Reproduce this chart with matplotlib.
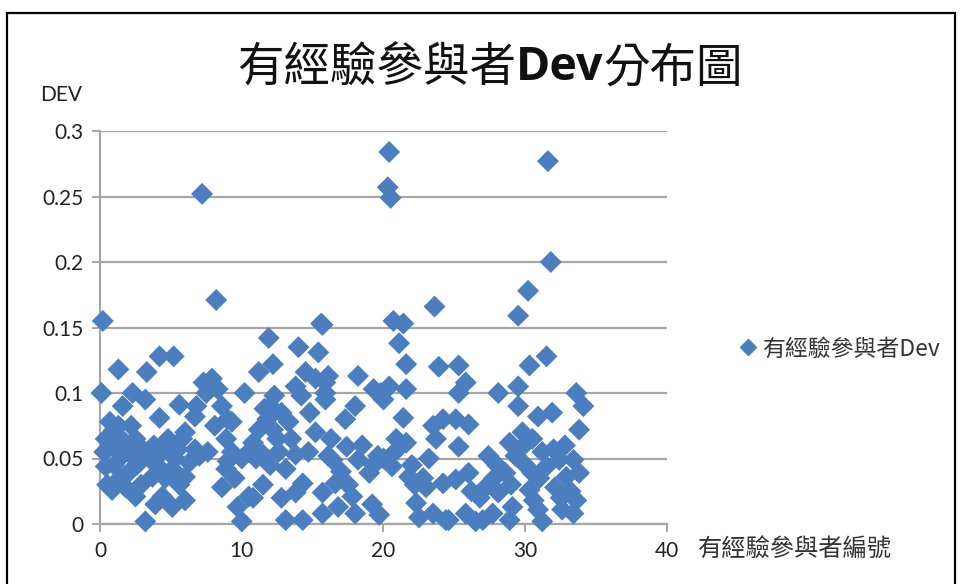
import matplotlib
matplotlib.use('Agg')
import matplotlib.pyplot as plt
from matplotlib.patches import Rectangle
from matplotlib.ticker import FuncFormatter
from matplotlib.lines import Line2D

plt.rcParams['font.family'] = ['Noto Sans CJK TC', 'DejaVu Sans']

# participant id vs Dev
x_vals = [
    0.2, 7.2, 8.2, 20.4, 20.3, 20.5, 23.6, 31.6, 31.8, 30.2, 29.5, 15.6, 20.7, 21.4,
    1.3, 3.3, 4.2, 5.2, 0.1, 2.3, 3.2, 1.6, 5.6, 4.2, 6.7, 7.3, 1.3, 0.4, 0.85, 2.5,
    4.8, 6.0, 0.4, 1.55, 3.0, 4.4, 5.5, 6.7, 2.0, 3.7, 5.1, 6.0, 0.85, 2.5, 4.4, 5.1,
    6.0, 3.2, 1.8, 0.6, 1.0, 1.2, 1.0, 0.5, 2.8, 3.5, 6.3, 7.0, 7.5, 6.8, 2.0,
    0.3, 0.7, 1.5, 2.2, 2.6, 3.8, 4.0, 4.6, 5.3, 5.8, 1.4, 2.9, 3.9, 5.6,
    15.7, 11.9, 14.0, 15.4, 12.2, 11.2, 14.5, 15.2, 15.9, 13.8, 7.9, 8.3, 10.2, 12.3,
    14.2, 15.9, 8.6, 11.6, 12.8, 9.3, 8.1, 11.2, 13.3, 15.2, 12.2, 8.9, 7.6, 9.3,
    10.5, 11.5, 12.6, 13.8, 14.7, 16.1, 8.9, 13.1, 8.6, 10.5, 14.3, 13.8, 15.7, 9.7,
    10.0, 13.1, 14.3, 15.7, 12.0, 12.5, 10.0, 11.0, 9.0, 11.8, 10.8,
    9.5, 10.8, 12.0, 13.5, 14.8, 11.5, 12.8, 9.0,
    21.1, 21.6, 23.9, 18.2, 16.1, 19.3, 20.4, 21.6, 20.0, 15.9, 18.0, 17.3, 21.4,
    23.5, 24.2, 23.7, 20.9, 21.6, 17.4, 16.4, 18.2, 19.6, 19.0, 20.6, 21.8, 23.0,
    24.2, 16.6, 17.8, 16.8, 18.0, 19.7, 22.3, 22.5, 23.5, 24.4, 17.0, 17.5, 19.3,
    20.0, 22.0, 22.8, 16.3, 19.8,
    18.5, 20.8, 22.2, 23.2, 19.2,
    30.3, 31.5, 25.3, 25.8, 25.3, 28.1, 29.5, 33.6, 34.1, 29.5, 30.9, 31.9, 25.1,
    26.0, 33.8, 29.8, 28.9, 25.3, 27.4, 29.3, 32.0, 32.4, 33.4, 25.1, 26.0, 27.2,
    28.6, 30.5, 31.5, 32.9, 33.8, 28.1, 30.3, 32.1, 33.6, 25.8, 27.7, 29.1, 31.2,
    33.4, 32.6, 30.9, 28.9, 24.6, 26.5, 27.0, 29.9, 30.5, 31.0, 32.5, 28.0,
    26.8, 27.8, 29.0, 30.0, 31.2, 32.8, 33.2, 30.6, 26.2,
]
dev_vals = [
    0.155, 0.252, 0.171, 0.284, 0.257, 0.249, 0.166, 0.277, 0.200, 0.178, 0.159, 0.153, 0.155, 0.153,
    0.118, 0.116, 0.128, 0.128, 0.100, 0.100, 0.095, 0.090, 0.091, 0.081, 0.082, 0.108, 0.075, 0.065, 0.067, 0.065,
    0.065, 0.070, 0.044, 0.052, 0.057, 0.055, 0.057, 0.057, 0.039, 0.036, 0.042, 0.036, 0.026, 0.021, 0.021, 0.013,
    0.018, 0.002, 0.028, 0.058, 0.072, 0.060, 0.045, 0.030, 0.048, 0.050, 0.047, 0.052, 0.100, 0.090, 0.055,
    0.055, 0.078, 0.065, 0.075, 0.045, 0.060, 0.045, 0.035, 0.050, 0.065, 0.035, 0.030, 0.015, 0.030,
    0.152, 0.142, 0.135, 0.131, 0.122, 0.116, 0.116, 0.111, 0.108, 0.105, 0.111, 0.103, 0.100, 0.098,
    0.098, 0.095, 0.090, 0.088, 0.085, 0.078, 0.075, 0.072, 0.078, 0.070, 0.072, 0.065, 0.055, 0.055,
    0.055, 0.053, 0.055, 0.053, 0.055, 0.052, 0.042, 0.042, 0.028, 0.021, 0.031, 0.024, 0.024, 0.013,
    0.002, 0.003, 0.003, 0.008, 0.090, 0.065, 0.050, 0.050, 0.048, 0.080, 0.020,
    0.035, 0.062, 0.045, 0.065, 0.085, 0.030, 0.020, 0.080,
    0.138, 0.122, 0.120, 0.113, 0.113, 0.103, 0.105, 0.103, 0.095, 0.100, 0.090, 0.080, 0.081,
    0.075, 0.080, 0.065, 0.065, 0.062, 0.059, 0.049, 0.049, 0.052, 0.039, 0.044, 0.036, 0.028,
    0.031, 0.031, 0.021, 0.013, 0.008, 0.007, 0.016, 0.005, 0.008, 0.003, 0.040, 0.030, 0.045,
    0.050, 0.045, 0.035, 0.065, 0.100,
    0.060, 0.055, 0.030, 0.050, 0.015,
    0.121, 0.128, 0.121, 0.108, 0.100, 0.100, 0.105, 0.100, 0.090, 0.090, 0.082, 0.085, 0.080,
    0.076, 0.072, 0.070, 0.062, 0.059, 0.052, 0.052, 0.057, 0.049, 0.049, 0.034, 0.039, 0.028,
    0.039, 0.039, 0.044, 0.036, 0.039, 0.024, 0.026, 0.028, 0.018, 0.008, 0.008, 0.013, 0.002,
    0.008, 0.011, 0.011, 0.003, 0.003, 0.002, 0.003, 0.060, 0.065, 0.035, 0.020, 0.045,
    0.020, 0.035, 0.030, 0.045, 0.055, 0.060, 0.025, 0.018, 0.025,
]

x_ticks = [0, 10, 20, 30, 40]
y_ticks = [0, 0.05, 0.1, 0.15, 0.2, 0.25, 0.3]

title_parts = ['有經驗參與者', 'Dev', '分布圖']
series_name = '有經驗參與者Dev'
x_title = '有經驗參與者編號'
y_title = 'DEV'

blue = '#4a7ebf'
grey = '#a6a6a6'
num_font = ['Lato', 'DejaVu Sans']

fig = plt.figure(figsize=(9.6, 5.84), dpi=100)
ax = fig.add_axes([100 / 960, 1 - 524 / 584, 567 / 960, 393 / 584])

ax.scatter(x_vals, dev_vals, marker='D', s=125, color=blue,
           edgecolors='none', zorder=3, clip_on=False)

ax.set_xlim(0, 40)
ax.set_ylim(0, 0.3)
ax.set_xticks(x_ticks)
ax.set_yticks(y_ticks)
ax.yaxis.set_major_formatter(FuncFormatter(lambda v, p: f'{v:g}'))

ax.grid(axis='y', color=grey, linewidth=1.6, zorder=0)
ax.set_axisbelow(True)
for side in ['top', 'right']:
    ax.spines[side].set_visible(False)
for side in ['left', 'bottom']:
    ax.spines[side].set_color(grey)
    ax.spines[side].set_linewidth(1.6)
ax.tick_params(axis='both', direction='out', length=6, width=1.4, color=grey,
               labelsize=15, labelcolor='#222222', pad=6)
for lab in ax.get_xticklabels() + ax.get_yticklabels():
    lab.set_family(num_font)

# axis titles
fig.text(40 / 960, 1 - 95 / 584, y_title, fontsize=15, family=num_font,
         ha='left', va='center', color='#222222')
fig.text(698 / 960, 1 - 550 / 584, x_title, fontsize=17.5,
         ha='left', va='center', color='#333333')

# legend
handle = Line2D([], [], marker='D', color=blue, linestyle='none', markersize=8)
fig.legend([handle], [series_name], loc='center left',
           bbox_to_anchor=(714 / 960, 1 - 349 / 584), frameon=False,
           fontsize=16.5, handletextpad=0.0, handlelength=1.2,
           labelcolor='#333333')

# title with bold Dev, pieces laid side by side
renderer = fig.canvas.get_renderer()
texts = []
for part in title_parts:
    t = fig.text(0, 1 - 68 / 584, part, fontsize=33.5, va='center', ha='left',
                 color='#111111',
                 fontweight='bold' if part == 'Dev' else 'normal',
                 family=['Open Sans', 'DejaVu Sans'] if part == 'Dev' else ['Noto Sans CJK TC'])
    texts.append(t)
widths = [t.get_window_extent(renderer).width for t in texts]
x_px = 490 - sum(widths) / 2
for t, w in zip(texts, widths):
    t.set_x(x_px / 960)
    x_px += w

# outer frame
fig.patches.append(Rectangle((7 / 960, -0.1), 948 / 960, 1.1 - 13 / 584,
                             transform=fig.transFigure, fill=False,
                             edgecolor='black', linewidth=1.6))

fig.savefig('out.png', dpi=100)
